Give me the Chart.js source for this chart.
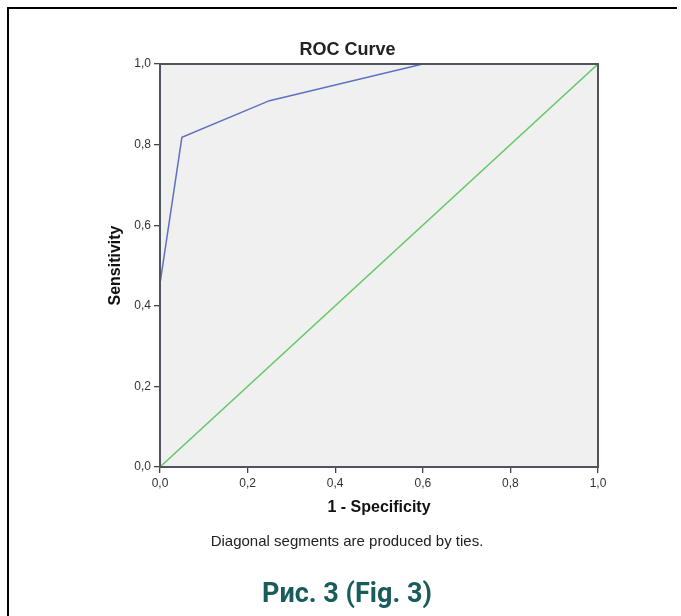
<!DOCTYPE html>
<html>
<head>
<meta charset="utf-8">
<script src="https://cdn.jsdelivr.net/npm/chart.js@4.4.1/dist/chart.umd.min.js"></script>
<style>
html,body{margin:0;padding:0;background:#fff;width:681px;height:616px;overflow:hidden;}
#frame{position:absolute;left:7px;top:7px;width:670px;height:620px;border-top:2px solid #000;border-left:2px solid #000;box-sizing:border-box;}
#wrap{position:absolute;left:0;top:0;width:681px;height:616px;}
#note{position:absolute;left:0;top:532px;width:694px;text-align:center;font:15px "Liberation Sans",Arial,sans-serif;line-height:17px;color:#222;}
#caption{position:absolute;left:0;top:577px;width:694px;text-align:center;font:bold 27px Roboto,"Liberation Sans",sans-serif;line-height:32px;color:#185c5c;}
</style>
</head>
<body>
<div id="frame"></div>
<div id="wrap"><canvas id="c" width="681" height="616"></canvas></div>
<div id="note"></div>
<div id="caption"></div>
<script>
// ---- data ----
const fpr = [0.00, 0.00, 0.05, 0.25, 0.60, 1.00];          // 1 - Specificity
const sensitivity = [0.000, 0.455, 0.818, 0.909, 1.000, 1.000];
const refLineX = [0, 1];
const refLineY = [0, 1];
const tickValues = [0, 0.2, 0.4, 0.6, 0.8, 1.0];
const tickLabels = ['0,0', '0,2', '0,4', '0,6', '0,8', '1,0'];
const chartTitle = 'ROC Curve';
const xTitle = '1 - Specificity';
const yTitle = 'Sensitivity';
const footnote = 'Diagonal segments are produced by ties.';
const figCaption = 'Рис. 3 (Fig. 3)';

document.getElementById('note').textContent = footnote;
document.getElementById('caption').textContent = figCaption;

Chart.defaults.font.family = '"Liberation Sans", Arial, sans-serif';

const toPoints = (xs, ys) => xs.map((x, i) => ({x: x, y: ys[i]}));

const plotFrame = {
  id: 'plotFrame',
  beforeDraw(chart) {
    const {ctx, chartArea: a} = chart;
    ctx.save();
    ctx.fillStyle = '#f0f0f0';
    ctx.fillRect(a.left, a.top, a.right - a.left, a.bottom - a.top);
    ctx.restore();
  },
  afterDatasetsDraw(chart) {
    const {ctx, chartArea: a} = chart;
    ctx.save();
    ctx.strokeStyle = '#50545e';
    ctx.lineWidth = 2;
    ctx.strokeRect(a.left, a.top, a.right - a.left, a.bottom - a.top);
    ctx.restore();
  }
};

const fixedTicks = s => { s.ticks = tickValues.map(v => ({value: v})); };

new Chart(document.getElementById('c'), {
  type: 'scatter',
  data: {
    datasets: [
      {
        data: toPoints(fpr, sensitivity),
        showLine: true, borderColor: '#5f70c4', borderWidth: 1.5,
        pointRadius: 0, tension: 0, fill: false
      },
      {
        data: toPoints(refLineX, refLineY),
        showLine: true, borderColor: '#66c866', borderWidth: 1.5,
        pointRadius: 0, tension: 0, fill: false
      }
    ]
  },
  options: {
    responsive: false,
    animation: false,
    devicePixelRatio: 1,
    layout: {padding: {left: 14, right: 0, top: 39, bottom: 89}},
    plugins: {
      legend: {display: false},
      tooltip: {enabled: false},
      title: {
        display: true, text: chartTitle, color: '#222',
        font: {size: 18, weight: 'bold'},
        padding: {top: 0, bottom: 3.4}
      }
    },
    scales: {
      x: {
        type: 'linear', min: 0, max: 1,
        afterBuildTicks: fixedTicks,
        ticks: {callback: (v, i) => tickLabels[i], color: '#333', font: {size: 12}, padding: 3, maxRotation: 0, autoSkip: false},
        grid: {display: true, drawOnChartArea: false, drawTicks: true, tickLength: 6, color: '#444', lineWidth: 1.3},
        border: {display: false},
        title: {display: true, text: xTitle, color: '#111', font: {size: 16, weight: 'bold'}, padding: {top: 0, bottom: 9.4}},
        afterFit: s => { s.height = 60; }
      },
      y: {
        type: 'linear', min: 0, max: 1,
        afterBuildTicks: fixedTicks,
        ticks: {callback: (v, i) => tickLabels[i], color: '#333', font: {size: 12}, padding: 3, autoSkip: false},
        grid: {display: true, drawOnChartArea: false, drawTicks: true, tickLength: 6, color: '#444', lineWidth: 1.3},
        border: {display: false},
        title: {display: true, text: yTitle, color: '#111', font: {size: 16, weight: 'bold'}, padding: {top: 92.4, bottom: 0}},
        afterFit: s => { s.width = 146; }
      },
      yRight: {
        type: 'linear', position: 'right', display: true,
        grid: {display: false}, border: {display: false}, ticks: {display: false},
        afterFit: s => { s.width = 83; }
      }
    }
  },
  plugins: [plotFrame]
});
</script>
</body>
</html>
